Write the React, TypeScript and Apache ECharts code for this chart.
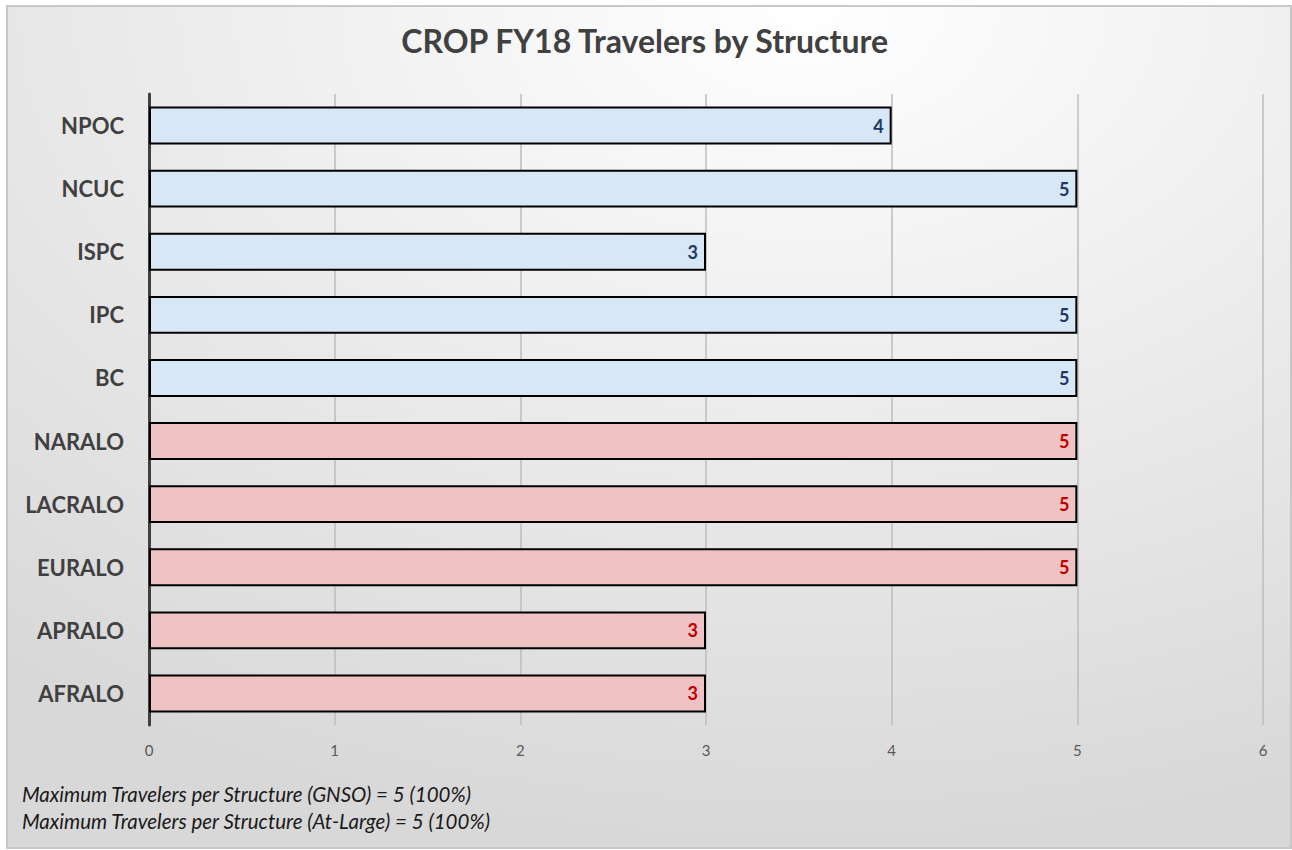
import React, { useEffect, useRef } from "react";
import * as echarts from "echarts";

const categories = ["AFRALO", "APRALO", "EURALO", "LACRALO", "NARALO", "BC", "IPC", "ISPC", "NCUC", "NPOC"];
const values = [3, 3, 5, 5, 5, 5, 5, 3, 5, 4];
const groups = ["At-Large", "At-Large", "At-Large", "At-Large", "At-Large", "GNSO", "GNSO", "GNSO", "GNSO", "GNSO"];
const xTicks = [0, 1, 2, 3, 4, 5, 6];
const title = "CROP FY18 Travelers by Structure";
const notes = [
  "Maximum Travelers per Structure (GNSO) = 5 (100%)",
  "Maximum Travelers per Structure (At-Large) = 5 (100%)",
];

const groupStyle: Record<string, { fill: string; label: string }> = {
  GNSO: { fill: "#d7e7f6", label: "#1f3864" },
  "At-Large": { fill: "#efc3c4", label: "#c00000" },
};

const FONT = "Lato, 'Open Sans', sans-serif";

export default function App() {
  const ref = useRef<HTMLDivElement>(null);
  useEffect(() => {
    if (!ref.current) return;
    const chart = echarts.init(ref.current, undefined, { renderer: "svg" });
    const data = values.map((v, i) => ({
      value: v,
      itemStyle: { color: groupStyle[groups[i]].fill },
      label: { color: groupStyle[groups[i]].label },
    }));
    chart.setOption({
      animation: false,
      textStyle: { fontFamily: FONT },
      graphic: [
        {
          type: "rect",
          z: -10,
          silent: true,
          shape: { x: 7, y: 6, width: 1284, height: 842 },
          style: {
            fill: new echarts.graphic.RadialGradient(0.62, 0.0, 1.0, [
              { offset: 0, color: "#ffffff" },
              { offset: 1, color: "#d8d8d8" },
            ]),
            stroke: "#c8c8c8",
            lineWidth: 2,
          },
        },
        {
          type: "text",
          left: "center",
          top: 24,
          style: { text: title, font: `bold 32px ${FONT}`, fill: "#404040" },
        },
        ...notes.map((t, i) => ({
          type: "text",
          left: 22,
          top: 784 + i * 27,
          style: { text: t, font: `italic 20.5px ${FONT}`, fill: "#1a1a1a" },
        })),
      ],
      grid: { left: 149, right: 29, top: 94, bottom: 125 },
      xAxis: {
        type: "value",
        min: 0,
        max: 6,
        interval: 1,
        axisLine: { show: false },
        axisTick: { show: false },
        splitLine: { lineStyle: { color: "#bcbcbc", width: 1.5 } },
        axisLabel: {
          color: "#595959",
          fontSize: 15,
          margin: 17,
          formatter: (v: number) => (xTicks.includes(v) ? String(v) : ""),
        },
      },
      yAxis: {
        type: "category",
        data: categories,
        axisLine: { show: true, lineStyle: { color: "#404040", width: 3 } },
        axisTick: { show: false },
        axisLabel: { color: "#404040", fontSize: 22, fontWeight: "bold", margin: 25 },
      },
      series: [
        {
          type: "bar",
          data,
          barCategoryGap: "40%",
          itemStyle: { borderColor: "#000000", borderWidth: 2 },
          label: {
            show: true,
            position: "insideRight",
            distance: 8,
            fontSize: 18,
            fontWeight: "bold",
          },
        },
      ],
    });
    return () => chart.dispose();
  }, []);
  return (
    <div
      ref={ref}
      style={{ position: "fixed", left: 0, top: 0, width: 1292, height: 850, background: "#ffffff" }}
    />
  );
}
